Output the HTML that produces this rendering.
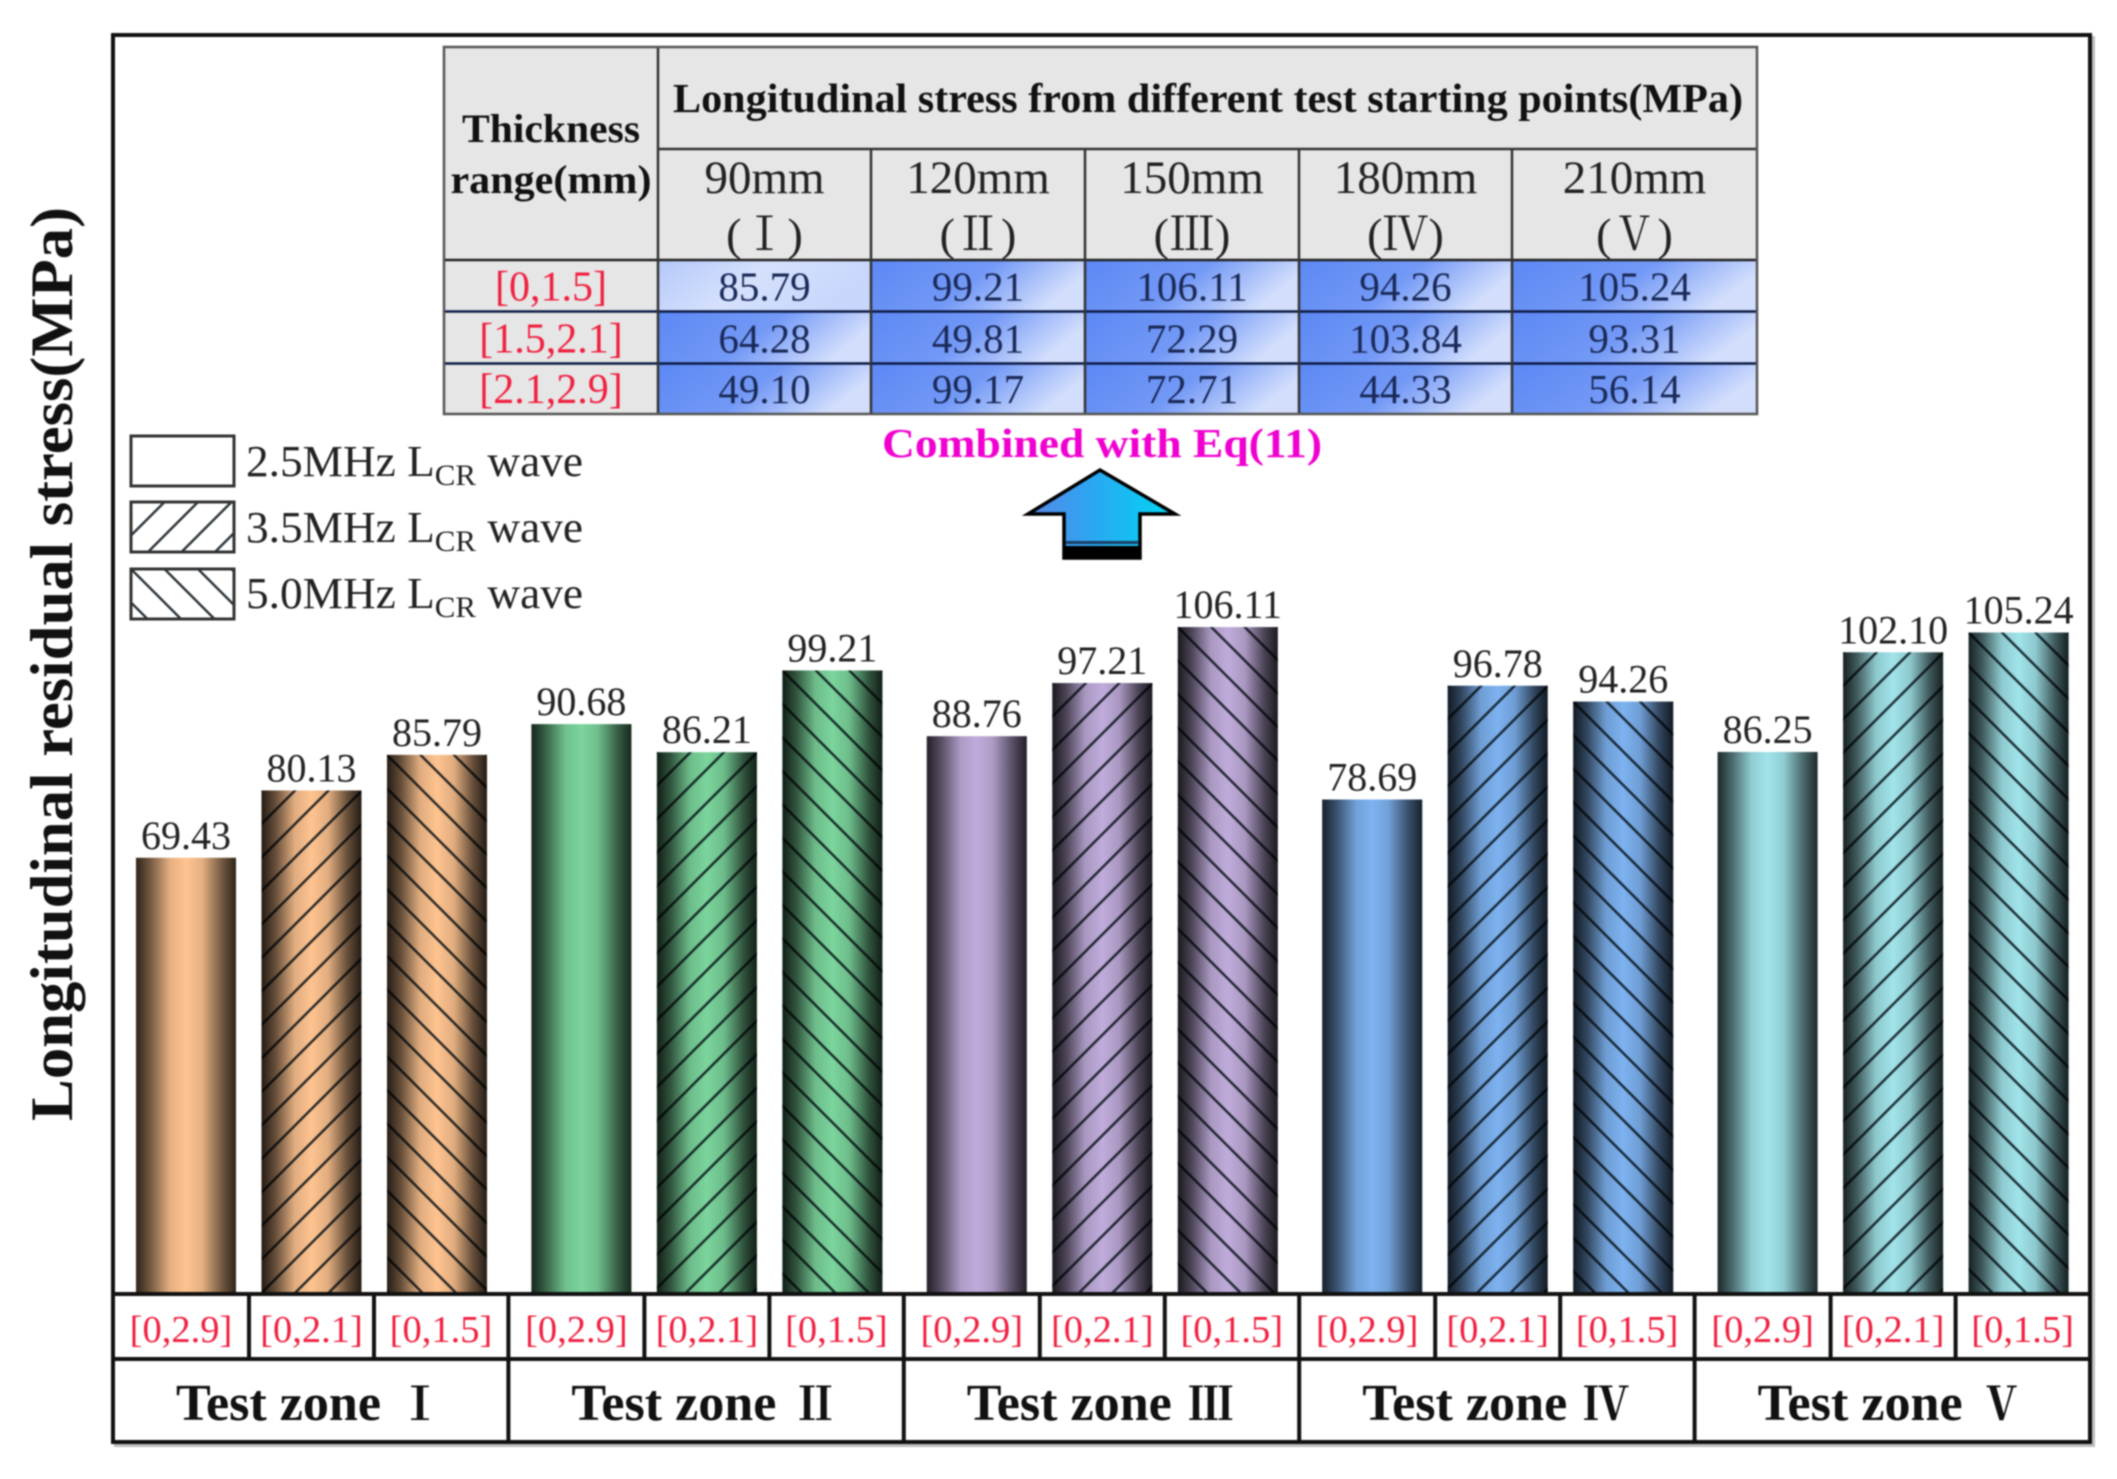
<!DOCTYPE html>
<html lang="en">
<head>
<meta charset="utf-8">
<title>Longitudinal residual stress by test zone</title>
<style>
  html, body { margin: 0; padding: 0; background: #fff; }
  body { width: 2117px; height: 1479px; overflow: hidden; }
  svg { display: block; filter: blur(0.7px); font-family: "Liberation Serif", "Noto Serif CJK SC", serif; }
</style>
</head>
<body>
<svg id="chart" xmlns="http://www.w3.org/2000/svg" width="2117" height="1479" viewBox="0 0 2117 1479">
  <defs>
    <linearGradient id="cyl" x1="0" x2="1" y1="0" y2="0">
      <stop offset="0" stop-color="#000" stop-opacity=".82"/>
      <stop offset=".14" stop-color="#000" stop-opacity=".55"/>
      <stop offset=".34" stop-color="#000" stop-opacity=".1"/>
      <stop offset=".5" stop-color="#000" stop-opacity="0"/>
      <stop offset=".66" stop-color="#000" stop-opacity=".1"/>
      <stop offset=".86" stop-color="#000" stop-opacity=".55"/>
      <stop offset="1" stop-color="#000" stop-opacity=".82"/>
    </linearGradient>
    <linearGradient id="cyl-hatched" x1="0" x2="1" y1="0" y2="0">
      <stop offset="0" stop-color="#000" stop-opacity=".86"/>
      <stop offset=".14" stop-color="#000" stop-opacity=".6"/>
      <stop offset=".33" stop-color="#000" stop-opacity=".12"/>
      <stop offset=".5" stop-color="#000" stop-opacity="0"/>
      <stop offset=".67" stop-color="#000" stop-opacity=".12"/>
      <stop offset=".86" stop-color="#000" stop-opacity=".6"/>
      <stop offset="1" stop-color="#000" stop-opacity=".86"/>
    </linearGradient>
    <pattern id="hatch-up" patternUnits="userSpaceOnUse" width="33.5" height="33.5">
      <line x1="-3" y1="36.5" x2="36.5" y2="-3" stroke="#061018" stroke-width="2.4" stroke-opacity=".85"/>
      <line x1="-3" y1="3" x2="3" y2="-3" stroke="#061018" stroke-width="2.4" stroke-opacity=".85"/>
      <line x1="30.5" y1="36.5" x2="36.5" y2="30.5" stroke="#061018" stroke-width="2.4" stroke-opacity=".85"/>
    </pattern>
    <pattern id="hatch-down" patternUnits="userSpaceOnUse" width="33.5" height="33.5">
      <line x1="-3" y1="-3" x2="36.5" y2="36.5" stroke="#061018" stroke-width="2.4" stroke-opacity=".85"/>
      <line x1="30.5" y1="-3" x2="36.5" y2="3" stroke="#061018" stroke-width="2.4" stroke-opacity=".85"/>
      <line x1="-3" y1="30.5" x2="3" y2="36.5" stroke="#061018" stroke-width="2.4" stroke-opacity=".85"/>
    </pattern>
    <linearGradient id="cell-strong" x1="0" y1="0" x2="1" y2="0.3">
      <stop offset="0" stop-color="#5C88F4"/>
      <stop offset=".55" stop-color="#7399F6"/>
      <stop offset="1" stop-color="#D2DEFC"/>
    </linearGradient>
    <linearGradient id="cell-light" x1="0" y1="0" x2="1" y2="0.3">
      <stop offset="0" stop-color="#B4C8F9"/>
      <stop offset=".5" stop-color="#D5E0FC"/>
      <stop offset="1" stop-color="#C8D6FB"/>
    </linearGradient>
    <linearGradient id="arrow-fill" x1="0" y1="0" x2="1" y2="0">
      <stop offset="0" stop-color="#5A86E6"/>
      <stop offset=".45" stop-color="#29A8F2"/>
      <stop offset="1" stop-color="#00D8F2"/>
    </linearGradient>
  </defs>

  <rect x="116" y="38" width="1977" height="1407" fill="none" stroke="#bdbdbd" stroke-width="4"/>
  <rect x="113" y="35" width="1977" height="1407" fill="#fff" stroke="#111" stroke-width="4"/>

  <text transform="translate(72,1121) rotate(-90)" font-size="60" font-weight="bold" fill="#111" textLength="914" lengthAdjust="spacingAndGlyphs">Longitudinal residual stress(MPa)</text>

  <g id="table"></g>

  <text x="882" y="457" font-size="41" font-weight="bold" fill="#F000D0" textLength="440" lengthAdjust="spacingAndGlyphs">Combined with Eq(11)</text>

  <g>
    <path d="M1100 470 L1175 514 L1140 514 L1140 558 L1064 558 L1064 514 L1028 514 Z" fill="url(#arrow-fill)" stroke="#000" stroke-width="3.5" stroke-linejoin="miter"/>
    <rect x="1064" y="546" width="76" height="13" fill="#000"/>
    <rect x="1066" y="541" width="72" height="3" fill="#1d3f66"/>
  </g>

  <g>
    <g>
      <rect x="131" y="436" width="103" height="50" fill="#fff" stroke="#333" stroke-width="3"/>
      <text x="246" y="476" font-size="44" fill="#222" textLength="337" lengthAdjust="spacingAndGlyphs">2.5MHz L<tspan font-size="30" dy="9">CR</tspan><tspan dy="-9"> wave</tspan></text>
    </g>
    <g>
      <g transform="translate(131,502)">
        <rect width="103" height="50" fill="url(#hatch-up)" stroke="#333" stroke-width="3"/>
      </g>
      <text x="246" y="542" font-size="44" fill="#222" textLength="337" lengthAdjust="spacingAndGlyphs">3.5MHz L<tspan font-size="30" dy="9">CR</tspan><tspan dy="-9"> wave</tspan></text>
    </g>
    <g>
      <g transform="translate(131,569)">
        <rect width="103" height="50" fill="url(#hatch-down)" stroke="#333" stroke-width="3"/>
      </g>
      <text x="246" y="608" font-size="44" fill="#222" textLength="337" lengthAdjust="spacingAndGlyphs">5.0MHz L<tspan font-size="30" dy="9">CR</tspan><tspan dy="-9"> wave</tspan></text>
    </g>
  </g>

  <g id="bars"></g>
  <g id="axis"></g>
</svg>

<script>
// ---- chart data ----
const zoneName = 'Test zone';
const zoneNumerals = ['\u2160', '\u2161', '\u2162', '\u2163', '\u2164'];
const ranges = ['[0,2.9]', '[0,2.1]', '[0,1.5]'];
const stress25MHz = [69.43, 90.68, 88.76, 78.69, 86.25];
const stress35MHz = [80.13, 86.21, 97.21, 96.78, 102.10];
const stress50MHz = [85.79, 99.21, 106.11, 94.26, 105.24];
const zoneColors = ['#FEC38F', '#7BD59C', '#C0ACDB', '#7DB2F0', '#A0E4EA'];

// ---- table data ----
const startPoints = ['90mm', '120mm', '150mm', '180mm', '210mm'];
const startRomans = ['\u2160', '\u2161', '\u2162', '\u2163', '\u2164'];
const thicknessRanges = ['[0,1.5]', '[1.5,2.1]', '[2.1,2.9]'];
const tableRow1 = ['85.79', '99.21', '106.11', '94.26', '105.24'];
const tableRow2 = ['64.28', '49.81', '72.29', '103.84', '93.31'];
const tableRow3 = ['49.10', '99.17', '72.71', '44.33', '56.14'];

const NS = 'http://www.w3.org/2000/svg';
const CJK = '"Noto Serif CJK SC", serif';
function mk(tag, parent, attrs, content) {
  const el = document.createElementNS(NS, tag);
  for (const k in attrs) el.setAttribute(k, attrs[k]);
  if (content !== undefined) el.textContent = content;
  parent.appendChild(el);
  return el;
}

// ---- axis functions ----
const baselineY = 1294.5;
const pxPerUnit = 6.29;
const frameLeft = 113, frameRight = 2090;
const zoneWidth = (frameRight - frameLeft) / zoneNumerals.length;
const barWidth = 100;
const barStep = 125.5;
function yScale(v) { return baselineY - v * pxPerUnit; }
function xScale(zone, sub) { return frameLeft + 23 + zone * zoneWidth + sub * barStep; }

// ---- bars ----
const barsG = document.getElementById('bars');
const seriesList = [stress25MHz, stress35MHz, stress50MHz];
const seriesKeys = ['2-5mhz', '3-5mhz', '5-0mhz'];
const seriesHatch = [null, 'url(#hatch-up)', 'url(#hatch-down)'];
seriesList.forEach(function (series, s) {
  series.forEach(function (value, z) {
    const x = xScale(z, s);
    const top = yScale(value);
    const h = baselineY - top;
    const g = mk('g', barsG, { transform: 'translate(' + x + ',' + top + ')' });
    
    
    const base = mk('rect', g, { width: barWidth, height: h, fill: zoneColors[z] });
    
    
    if (seriesHatch[s]) {
      const hatch = mk('rect', g, { width: barWidth, height: h, fill: seriesHatch[s] });
      
      
    }
    const shade = mk('rect', g, { width: barWidth, height: h, fill: seriesHatch[s] ? 'url(#cyl-hatched)' : 'url(#cyl)' });
    
    
    const label = mk('text', barsG, {
      x: x + barWidth / 2, y: top - 9, 'text-anchor': 'middle', 'font-size': 40, fill: '#222'
    }, value.toFixed(2));
    
    
  });
});

// ---- category axis ----
const axisG = document.getElementById('axis');
const axisTop = 1294, axisMid = 1359, axisBottom = 1442;
const subDividers = [136, 261];
const subCenters = [68, 198.5, 328];
function axisLine(x1, y1, x2, y2) {
  const l = mk('line', axisG, { x1: x1, y1: y1, x2: x2, y2: y2, stroke: '#111', 'stroke-width': 4 });
  
  
}
axisLine(frameLeft, axisTop, frameRight, axisTop);
axisLine(frameLeft, axisMid, frameRight, axisMid);
zoneNumerals.forEach(function (numeral, z) {
  const zx = frameLeft + z * zoneWidth;
  if (z > 0) axisLine(zx, axisTop, zx, axisBottom);
  subDividers.forEach(function (d) { axisLine(zx + d, axisTop, zx + d, axisMid); });
  ranges.forEach(function (r, s) {
    const t = mk('text', axisG, {
      x: zx + subCenters[s], y: 1342, 'text-anchor': 'middle', 'font-size': 38.5, fill: '#F02040'
    }, r);
    
    
  });
  const zl = mk('text', axisG, {
    x: zx + 63, y: 1420, 'font-size': 52, 'font-weight': 'bold', fill: '#111', textLength: 205, lengthAdjust: 'spacingAndGlyphs'
  }, zoneName);
  
  
  const zn = mk('text', axisG, {
    x: zx + 307, y: 1420, 'text-anchor': 'middle', 'font-size': 46, 'font-weight': 'bold', fill: '#111', 'font-family': CJK
  }, numeral);
  
  
});

// ---- table ----
const tableG = document.getElementById('table');
const colX = [444, 658, 871, 1085, 1299, 1512, 1757];
const rowY = [47, 149, 260, 311.5, 363.5, 414];
const headBg = mk('rect', tableG, { x: colX[0], y: rowY[0], width: colX[6] - colX[0], height: rowY[5] - rowY[0], fill: '#E6E6E6' });


function tableText(x, y, size, fill, weight, content, len) {
  const a = { x: x, y: y, 'text-anchor': 'middle', 'font-size': size, fill: fill, 'font-weight': weight };
  if (len) { a.textLength = len; a.lengthAdjust = 'spacingAndGlyphs'; }
  return mk('text', tableG, a, content);
}
const tableRows = [tableRow1, tableRow2, tableRow3];
tableRows.forEach(function (row, r) {
  row.forEach(function (value, c) {
    const cell = mk('rect', tableG, {
      x: colX[c + 1], y: rowY[r + 2], width: colX[c + 2] - colX[c + 1], height: rowY[r + 3] - rowY[r + 2],
      fill: (r === 0 && c === 0) ? 'url(#cell-light)' : 'url(#cell-strong)'
    });
    
    
    const t = tableText((colX[c + 1] + colX[c + 2]) / 2, rowY[r + 3] - 11, 41, '#1A2A58', 'normal', value);
    
    
  });
  const rl = tableText((colX[0] + colX[1]) / 2, rowY[r + 3] - 11, 42, '#F02040', 'normal', thicknessRanges[r]);
  
  
});
startPoints.forEach(function (p, c) {
  const cx = (colX[c + 1] + colX[c + 2]) / 2;
  const t = tableText(cx, 193, 47, '#222', 'normal', p);
  
  
  const rn = tableText(cx, 250, 46, '#222', 'normal', '(');
  
  
  const glyph = document.createElementNS(NS, 'tspan');
  glyph.setAttribute('font-family', CJK);
  glyph.textContent = startRomans[c];
  rn.appendChild(glyph);
  rn.appendChild(document.createTextNode(')'));
});
const th1 = tableText(551, 142, 40, '#111', 'bold', 'Thickness', 178);


const th2 = tableText(551, 193, 40, '#111', 'bold', 'range(mm)', 201);


const th3 = tableText(1208, 112, 41, '#111', 'bold', 'Longitudinal stress from different test starting points(MPa)', 1070);


function tableLine(x1, y1, x2, y2, color) {
  const l = mk('line', tableG, { x1: x1, y1: y1, x2: x2, y2: y2, stroke: color, 'stroke-width': 2.5 });
  
  
}
tableLine(colX[1], rowY[1], colX[6], rowY[1], '#333');
tableLine(colX[0], rowY[2], colX[6], rowY[2], '#222');
tableLine(colX[0], rowY[3], colX[6], rowY[3], '#0c1a44');
tableLine(colX[0], rowY[4], colX[6], rowY[4], '#0c1a44');
for (let i = 1; i < colX.length - 1; i++) {
  tableLine(colX[i], i === 1 ? rowY[0] : rowY[1], colX[i], rowY[5], '#333');
}
const border = mk('rect', tableG, { x: colX[0], y: rowY[0], width: colX[6] - colX[0], height: rowY[5] - rowY[0], fill: 'none', stroke: '#555', 'stroke-width': 2.5 });


</script>
</body>
</html>
